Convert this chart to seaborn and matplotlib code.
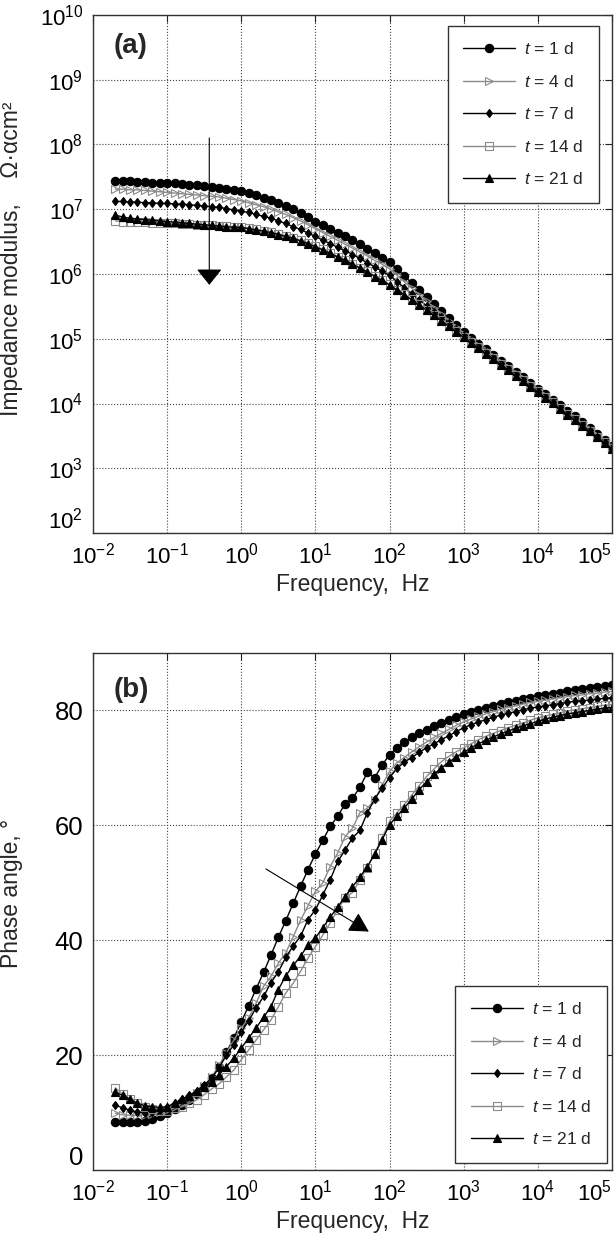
import numpy as np
import pandas as pd
import seaborn as sns
import matplotlib.pyplot as plt
from matplotlib.ticker import NullLocator, FixedLocator

# frequency points (Hz), 10 per decade, 0.02 Hz .. 100 kHz
freq = [0.02, 0.0251, 0.0316, 0.0398, 0.0501, 0.0631, 0.0794,
        0.1, 0.126, 0.158, 0.2, 0.251, 0.316, 0.398, 0.501, 0.631, 0.794,
        1.0, 1.26, 1.58, 2.0, 2.51, 3.16, 3.98, 5.01, 6.31, 7.94,
        10.0, 12.6, 15.8, 20.0, 25.1, 31.6, 39.8, 50.1, 63.1, 79.4,
        100.0, 126.0, 158.0, 200.0, 251.0, 316.0, 398.0, 501.0, 631.0, 794.0,
        1e3, 1.26e3, 1.58e3, 2e3, 2.51e3, 3.16e3, 3.98e3, 5.01e3, 6.31e3, 7.94e3,
        1e4, 1.26e4, 1.58e4, 2e4, 2.51e4, 3.16e4, 3.98e4, 5.01e4, 6.31e4, 7.94e4,
        1e5]

labels = ["1", "4", "7", "14", "21"]
x_ticks = [1e-2, 1e-1, 1e0, 1e1, 1e2, 1e3, 1e4, 1e5]
z_ticks = [1e2, 1e3, 1e4, 1e5, 1e6, 1e7, 1e8, 1e9, 1e10]
phase_ticks = [0, 20, 40, 60, 80]

# log10 of impedance modulus
logz_1d = [7.43, 7.43, 7.43, 7.42, 7.42, 7.41, 7.41, 7.40, 7.40, 7.39, 7.38, 7.37, 7.36, 7.35, 7.33, 7.32, 7.30,
           7.28, 7.25, 7.22, 7.18, 7.14, 7.10, 7.05, 7.00, 6.94, 6.88,
           6.81, 6.75, 6.69, 6.63, 6.58, 6.52, 6.46, 6.39, 6.32, 6.25,
           6.18, 6.08, 5.97, 5.86, 5.76, 5.65, 5.54, 5.43, 5.32, 5.21,
           5.10, 5.01, 4.92, 4.84, 4.75, 4.66, 4.58, 4.49, 4.41, 4.32,
           4.23, 4.15, 4.06, 3.97, 3.88, 3.80, 3.71, 3.62, 3.53, 3.44, 3.35]
logz_4d = [7.31, 7.31, 7.30, 7.30, 7.29, 7.28, 7.27, 7.26, 7.25, 7.24, 7.23, 7.22, 7.21, 7.20, 7.19, 7.17, 7.15,
           7.13, 7.10, 7.07, 7.04, 7.00, 6.96, 6.92, 6.87, 6.82, 6.76,
           6.70, 6.64, 6.58, 6.52, 6.46, 6.40, 6.34, 6.28, 6.21, 6.15,
           6.08, 5.98, 5.88, 5.78, 5.68, 5.58, 5.48, 5.38, 5.28, 5.18,
           5.08, 4.99, 4.90, 4.82, 4.73, 4.64, 4.56, 4.47, 4.39, 4.30,
           4.21, 4.13, 4.04, 3.95, 3.86, 3.78, 3.69, 3.60, 3.51, 3.42, 3.33]
logz_7d = [7.12, 7.12, 7.11, 7.11, 7.10, 7.10, 7.09, 7.09, 7.08, 7.08, 7.07, 7.06, 7.05, 7.04, 7.03, 7.01, 6.99,
           6.97, 6.95, 6.92, 6.89, 6.86, 6.82, 6.78, 6.73, 6.69, 6.63,
           6.58, 6.52, 6.47, 6.41, 6.36, 6.30, 6.24, 6.17, 6.11, 6.04,
           5.98, 5.88, 5.79, 5.69, 5.60, 5.51, 5.42, 5.33, 5.24, 5.15,
           5.06, 4.97, 4.89, 4.80, 4.72, 4.63, 4.55, 4.46, 4.38, 4.29,
           4.20, 4.12, 4.03, 3.94, 3.85, 3.77, 3.68, 3.59, 3.50, 3.41, 3.32]
logz_14d = [6.82, 6.81, 6.81, 6.80, 6.80, 6.79, 6.79, 6.78, 6.78, 6.77, 6.77, 6.76, 6.76, 6.75, 6.74, 6.74, 6.73,
            6.72, 6.71, 6.69, 6.67, 6.65, 6.62, 6.59, 6.56, 6.52, 6.48,
            6.43, 6.38, 6.33, 6.27, 6.22, 6.16, 6.10, 6.04, 5.97, 5.91,
            5.84, 5.76, 5.69, 5.61, 5.53, 5.45, 5.37, 5.29, 5.20, 5.12,
            5.03, 4.95, 4.87, 4.78, 4.70, 4.61, 4.53, 4.44, 4.36, 4.27,
            4.19, 4.10, 4.02, 3.93, 3.84, 3.76, 3.67, 3.58, 3.49, 3.40, 3.31]
logz_21d = [6.91, 6.88, 6.86, 6.85, 6.84, 6.83, 6.82, 6.81, 6.80, 6.79, 6.78, 6.77, 6.76, 6.75, 6.74, 6.73, 6.72,
            6.72, 6.70, 6.68, 6.66, 6.64, 6.61, 6.58, 6.55, 6.51, 6.47,
            6.42, 6.37, 6.32, 6.26, 6.21, 6.15, 6.09, 6.03, 5.96, 5.90,
            5.83, 5.75, 5.68, 5.60, 5.52, 5.44, 5.36, 5.28, 5.19, 5.11,
            5.02, 4.94, 4.86, 4.77, 4.69, 4.60, 4.52, 4.43, 4.35, 4.26,
            4.18, 4.09, 4.01, 3.92, 3.83, 3.75, 3.66, 3.57, 3.48, 3.39, 3.30]

# phase angle (deg)
phase_1d = [8.4, 8.3, 8.3, 8.3, 8.5, 8.9, 9.4, 10.0, 10.6, 11.3, 12.2, 13.2, 14.4, 16.0, 18.0, 20.5, 23.0,
            25.8, 28.6, 31.5, 34.4, 37.4, 40.5, 43.4, 46.4, 49.4, 52.3,
            55.0, 57.4, 59.8, 61.6, 63.7, 64.7, 66.6, 69.2, 68.3, 70.5,
            72.3, 73.5, 74.5, 75.3, 76.0, 76.6, 77.2, 77.8, 78.3, 78.8,
            79.3, 79.7, 80.1, 80.5, 80.8, 81.1, 81.4, 81.7, 82.0, 82.2,
            82.5, 82.7, 82.9, 83.1, 83.3, 83.5, 83.7, 83.9, 84.1, 84.3, 84.5]
phase_4d = [9.9, 9.6, 9.5, 9.5, 9.6, 9.8, 10.1, 10.5, 11.0, 11.6, 12.4, 13.4, 14.6, 16.2, 18.2, 20.4, 22.6,
            24.7, 26.5, 29.0, 32.0, 33.7, 36.0, 37.8, 40.6, 43.5, 46.0,
            48.5, 50.0, 52.8, 55.2, 58.0, 59.5, 62.2, 63.0, 64.4, 67.0,
            69.4, 70.9, 71.8, 72.8, 73.7, 74.5, 75.3, 76.0, 76.7, 77.4,
            78.0, 78.5, 79.0, 79.4, 79.8, 80.2, 80.5, 80.8, 81.1, 81.4,
            81.6, 81.8, 82.0, 82.2, 82.4, 82.6, 82.7, 82.9, 83.0, 83.2, 83.3]
phase_7d = [11.3, 10.8, 10.4, 10.1, 10.0, 10.1, 10.5, 11.0, 11.6, 12.3, 13.0, 13.8, 14.8, 16.0, 17.8, 20.0, 21.8,
            24.0, 26.0, 28.2, 30.2, 32.6, 34.5, 37.0, 39.0, 40.7, 43.6,
            45.3, 47.9, 50.5, 53.7, 55.7, 57.8, 59.1, 62.2, 64.6, 66.5,
            68.3, 69.9, 71.0, 71.8, 72.7, 73.5, 74.2, 74.9, 75.6, 76.3,
            77.0, 77.5, 78.0, 78.4, 78.8, 79.2, 79.5, 79.8, 80.1, 80.4,
            80.6, 80.8, 81.0, 81.2, 81.4, 81.6, 81.7, 81.8, 82.0, 82.1, 82.2]
phase_14d = [14.3, 13.2, 12.3, 11.6, 11.0, 10.6, 10.3, 10.3, 10.8, 11.0, 11.6, 12.2, 13.1, 14.1, 15.0, 16.2, 17.4,
             19.2, 20.9, 22.6, 24.4, 26.1, 28.4, 30.8, 32.5, 34.6, 36.9,
             38.9, 40.9, 43.0, 45.3, 47.4, 48.3, 50.5, 52.6, 55.2, 57.8,
             60.7, 62.2, 63.6, 65.3, 66.9, 68.5, 69.8, 71.1, 72.0, 72.8,
             73.5, 74.2, 74.9, 75.5, 76.0, 76.5, 77.0, 77.4, 77.8, 78.3,
             78.7, 79.0, 79.3, 79.6, 79.9, 80.1, 80.3, 80.5, 80.7, 80.9, 81.0]
phase_21d = [13.5, 13.0, 12.3, 11.6, 11.2, 11.0, 10.9, 11.0, 11.6, 12.3, 12.9, 13.7, 14.5, 15.4, 16.6, 18.0, 19.5,
             21.2, 23.0, 24.7, 26.6, 28.4, 31.4, 33.8, 35.6, 37.2, 39.2,
             40.4, 42.2, 44.0, 45.8, 47.6, 49.3, 51.0, 52.8, 55.0, 57.5,
             60.1, 61.6, 63.0, 64.6, 66.2, 67.6, 68.9, 70.0, 71.0, 71.9,
             72.7, 73.5, 74.2, 74.8, 75.4, 75.9, 76.4, 76.9, 77.3, 77.7,
             78.1, 78.5, 78.8, 79.1, 79.4, 79.6, 79.8, 80.0, 80.2, 80.4, 80.5]

modulus = [logz_1d, logz_4d, logz_7d, logz_14d, logz_21d]
phase = [phase_1d, phase_4d, phase_7d, phase_14d, phase_21d]

# marker styles per immersion time
styles = [
    dict(color="black", marker="o", markersize=6.0, markerfacecolor="black", markeredgecolor="black"),
    dict(color="#8a8a8a", marker=">", markersize=5.8, markerfacecolor="none", markeredgecolor="#8a8a8a"),
    dict(color="black", marker="d", markersize=4.5, markerfacecolor="black", markeredgecolor="black"),
    dict(color="#8a8a8a", marker="s", markersize=5.2, markerfacecolor="none", markeredgecolor="#8a8a8a"),
    dict(color="black", marker="^", markersize=6.0, markerfacecolor="black", markeredgecolor="black"),
]

sns.set_style("white")
plt.rcParams["font.family"] = ["Liberation Sans", "DejaVu Sans"]
plt.rcParams["mathtext.fontset"] = "custom"
plt.rcParams["mathtext.rm"] = "Liberation Sans"
plt.rcParams["mathtext.it"] = "Liberation Sans:italic"
plt.rcParams["mathtext.bf"] = "Liberation Sans:bold"
plt.rcParams["axes.unicode_minus"] = True

fig = plt.figure(figsize=(6.14, 12.39), dpi=100)
ax1 = fig.add_axes([0.1515, 0.5698, 0.8452, 0.4181])
ax2 = fig.add_axes([0.1515, 0.0557, 0.8452, 0.4173])

for ax, data in ((ax1, modulus), (ax2, phase)):
    for lab, vals, st in zip(labels, data, styles):
        y = np.array(vals)
        if ax is ax1:
            y = 10 ** y
        df = pd.DataFrame({"freq": freq, "val": y})
        sns.lineplot(data=df, x="freq", y="val", ax=ax, lw=1.0,
                     markeredgewidth=0.8, label=r"$t$ = " + lab + " d", **st)

for ax in (ax1, ax2):
    ax.set_xscale("log")
    ax.set_xlim(1e-2, 1e5)
    ax.xaxis.set_major_locator(FixedLocator(x_ticks))
    ax.xaxis.set_minor_locator(NullLocator())
    ax.grid(True, which="major", linestyle=":", color="#444444", linewidth=0.8)
    ax.set_axisbelow(True)
    ax.tick_params(direction="in", top=True, right=True, length=5, width=0.8,
                   colors="#222222", labelcolor="black", pad=7)
    ax.tick_params(axis="x", labelsize=16)
    for sp in ax.spines.values():
        sp.set_color("#333333")
        sp.set_linewidth(1.0)
    ax.set_xlabel("Frequency,  Hz", fontsize=16.5, labelpad=3)

ax1.set_yscale("log")
ax1.set_ylim(1e2, 1e10)
ax1.yaxis.set_major_locator(FixedLocator(z_ticks))
ax1.yaxis.set_minor_locator(NullLocator())
ax1.tick_params(axis="y", labelsize=16)
ax1.set_ylabel("Impedance modulus,    \u03a9\u00b7\u03b1cm\u00b2", fontsize=16.5)
ax1.yaxis.set_label_coords(-0.135, 0.53)

ax2.set_ylim(0, 90)
ax2.yaxis.set_major_locator(FixedLocator(phase_ticks))
ax2.tick_params(axis="y", labelsize=18.5)
ax2.set_ylabel("Phase angle, \u00b0", fontsize=16.5)
ax2.yaxis.set_label_coords(-0.135, 0.535)

# keep the corner labels apart, as in the reference
for ax in (ax1, ax2):
    ax.xaxis.get_major_ticks()[-1].label1.set_horizontalalignment("right")
    ax.yaxis.get_major_ticks()[0].label1.set_verticalalignment("bottom")

ax1.text(0.04, 0.94, "(a)", transform=ax1.transAxes, fontsize=20, fontweight="bold", va="center")
ax2.text(0.04, 0.928, "(b)", transform=ax2.transAxes, fontsize=20, fontweight="bold", va="center")

# trend arrows
arrow_a = ((0.37, 1.26e8), (0.37, 6.8e5))
arrow_b = ((2.15, 52.4), (52.5, 41.5))
ax1.annotate("", xy=arrow_a[1], xytext=arrow_a[0],
             arrowprops=dict(arrowstyle="-|>,head_length=0.5,head_width=0.4",
                             color="black", lw=0.8, mutation_scale=20, shrinkA=0, shrinkB=0))
ax2.annotate("", xy=arrow_b[1], xytext=arrow_b[0],
             arrowprops=dict(arrowstyle="-|>,head_length=0.6,head_width=0.33",
                             color="black", lw=0.8, mutation_scale=20, shrinkA=0, shrinkB=0))

leg_kw = dict(fontsize=12.5, frameon=True, fancybox=False, framealpha=1, edgecolor="#333333",
              handlelength=3.0, handletextpad=0.5, labelspacing=0.95, borderpad=0.9,
              numpoints=1, borderaxespad=0)
l1 = ax1.legend(loc="upper right", bbox_to_anchor=(0.975, 0.979), **leg_kw)
l2 = ax2.legend(loc="lower right", bbox_to_anchor=(0.99, 0.0135), **leg_kw)
for lg in (l1, l2):
    lg.get_frame().set_linewidth(1.0)

fig.savefig("out.png", dpi=100)
